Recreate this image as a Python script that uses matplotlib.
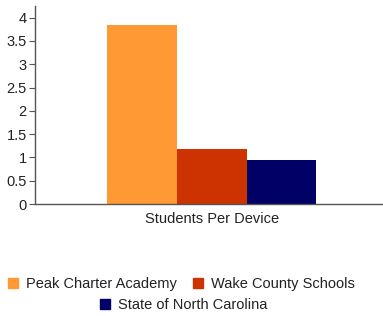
import matplotlib
matplotlib.use("Agg")
import matplotlib.pyplot as plt
from matplotlib.patches import Patch

categories = ["Students Per Device"]
series_names = ["Peak Charter Academy", "Wake County Schools", "State of North Carolina"]
series_values = [[3.85], [1.18], [0.95]]
colors = ["#FF9933", "#CC3300", "#000066"]
yticks = [0, 0.5, 1, 1.5, 2, 2.5, 3, 3.5, 4]
ytick_labels = ["0", "0.5", "1", "1.5", "2", "2.5", "3", "3.5", "4"]

plt.rcParams['font.family'] = ['Liberation Sans', 'DejaVu Sans']

W, H = 383, 316
fig = plt.figure(figsize=(W/100, H/100), dpi=100)
ax = fig.add_axes([35/W, 1-204/H, (W-35)/W, (204-6)/H])

width = 0.2
n = len(series_names)
for i, (name, vals, c) in enumerate(zip(series_names, series_values, colors)):
    x = [j + (i - (n-1)/2) * width for j in range(len(categories))]
    ax.bar(x, vals, width=width, color=c, label=name)

ax.set_xlim(-0.508, 0.492)
ax.set_ylim(0, 4.25)
ax.set_yticks(yticks)
ax.set_yticklabels(ytick_labels)
ax.set_xticks(range(len(categories)))
ax.set_xticklabels(categories)
for s in ["top", "right"]:
    ax.spines[s].set_visible(False)
for s in ["left", "bottom"]:
    ax.spines[s].set_color("#555555")
    ax.spines[s].set_linewidth(1)
ax.tick_params(axis="y", length=4, color="#555555", labelsize=10.5, pad=2, labelcolor="#222222")
ax.tick_params(axis="x", length=0, labelsize=10.5, pad=6, labelcolor="#222222")

handles = [Patch(color=c) for c in colors]
common = dict(frameon=False, fontsize=10.5, handlelength=0.7, handleheight=0.7,
              handletextpad=0.5, columnspacing=1.15, borderpad=0, borderaxespad=0,
              labelcolor="#222222")
leg1 = fig.legend(handles[:2], series_names[:2], ncol=2, loc="center left",
                  bbox_to_anchor=(8/W, 1-284/H), **common)
leg2 = fig.legend(handles[2:], series_names[2:], ncol=1, loc="center left",
                  bbox_to_anchor=(100/W, 1-305/H), **common)
fig.savefig("out.png", dpi=100)
